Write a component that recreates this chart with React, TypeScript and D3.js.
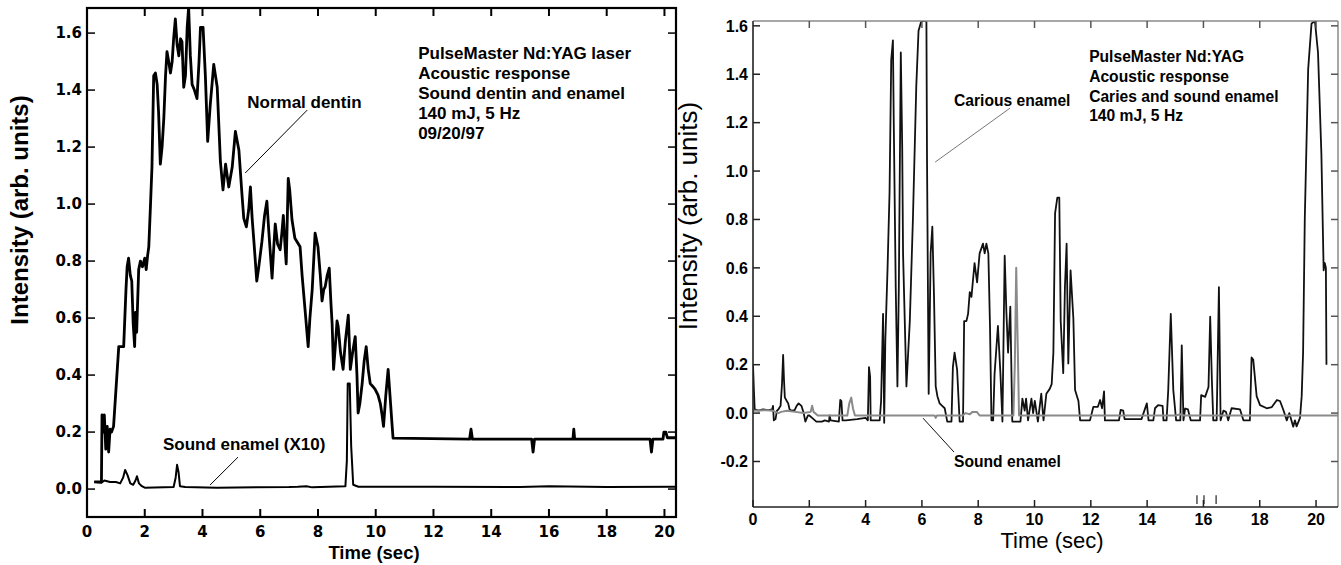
import React from "react";
import * as d3 from "d3";

type Pt = [number, number];

// ---------- Left panel data ----------
const leftTimeTicks = [0, 2, 4, 6, 8, 10, 12, 14, 16, 18, 20];
const leftIntensityTicks = [0, 0.2, 0.4, 0.6, 0.8, 1.0, 1.2, 1.4, 1.6];

const normalDentin: Pt[] = [
  [0.25, 0.025], [0.5, 0.025], [0.52, 0.26], [0.56, 0.2], [0.6, 0.26], [0.65, 0.14], [0.7, 0.22], [0.75, 0.13],
  [0.8, 0.21], [0.85, 0.2], [0.92, 0.22], [1.1, 0.5], [1.27, 0.5], [1.35, 0.7], [1.39, 0.78], [1.44, 0.81],
  [1.5, 0.75], [1.55, 0.73], [1.6, 0.58], [1.65, 0.5], [1.68, 0.62], [1.72, 0.55], [1.79, 0.77], [1.85, 0.8],
  [1.92, 0.78], [2.0, 0.81], [2.05, 0.77], [2.1, 0.82], [2.14, 0.85], [2.2, 1.0], [2.25, 1.13], [2.31, 1.45],
  [2.37, 1.46], [2.43, 1.42], [2.48, 1.32], [2.54, 1.14], [2.6, 1.2], [2.66, 1.3], [2.72, 1.45], [2.77, 1.535],
  [2.83, 1.5], [2.89, 1.46], [2.95, 1.5], [3.0, 1.58], [3.06, 1.65], [3.12, 1.56], [3.18, 1.52], [3.24, 1.58],
  [3.29, 1.57], [3.35, 1.41], [3.41, 1.45], [3.47, 1.62], [3.52, 1.69], [3.58, 1.52], [3.64, 1.42], [3.72, 1.4],
  [3.81, 1.37], [3.88, 1.5], [3.93, 1.62], [4.02, 1.62], [4.1, 1.45], [4.18, 1.22], [4.27, 1.35], [4.39, 1.49],
  [4.45, 1.45], [4.51, 1.41], [4.62, 1.15], [4.71, 1.05], [4.8, 1.14], [4.91, 1.06], [5.03, 1.13], [5.14, 1.255],
  [5.26, 1.19], [5.37, 1.03], [5.43, 0.95], [5.52, 0.92], [5.6, 0.98], [5.66, 1.06], [5.72, 0.95], [5.78, 0.87],
  [5.88, 0.73], [5.95, 0.78], [6.06, 0.87], [6.15, 0.96], [6.23, 1.01], [6.3, 0.9], [6.41, 0.74], [6.47, 0.85],
  [6.52, 0.93], [6.6, 0.86], [6.69, 0.84], [6.75, 0.9], [6.8, 0.96], [6.86, 0.85], [6.9, 0.79], [6.97, 1.09],
  [7.02, 1.05], [7.1, 0.945], [7.2, 0.88], [7.38, 0.85], [7.45, 0.75], [7.56, 0.62], [7.66, 0.5], [7.72, 0.6],
  [7.8, 0.7], [7.9, 0.898], [8.0, 0.85], [8.08, 0.75], [8.14, 0.66], [8.2, 0.7], [8.25, 0.71], [8.32, 0.75],
  [8.39, 0.775], [8.45, 0.65], [8.49, 0.58], [8.54, 0.42], [8.6, 0.5], [8.66, 0.59], [8.7, 0.57], [8.78, 0.48],
  [8.87, 0.42], [8.95, 0.52], [9.05, 0.61], [9.12, 0.42], [9.2, 0.48], [9.29, 0.535], [9.35, 0.4], [9.39, 0.267],
  [9.45, 0.3], [9.53, 0.37], [9.6, 0.45], [9.67, 0.5], [9.74, 0.42], [9.81, 0.37], [9.9, 0.36], [9.98, 0.35],
  [10.08, 0.33], [10.16, 0.3], [10.22, 0.26], [10.27, 0.22], [10.35, 0.33], [10.43, 0.42], [10.5, 0.32],
  [10.57, 0.22], [10.6, 0.179], [13.25, 0.175], [13.3, 0.21], [13.35, 0.175], [15.4, 0.175], [15.45, 0.13],
  [15.5, 0.175], [16.83, 0.175], [16.86, 0.21], [16.89, 0.175], [19.5, 0.175], [19.55, 0.13], [19.6, 0.175],
  [19.95, 0.175], [19.98, 0.2], [20.05, 0.2], [20.1, 0.18], [20.4, 0.18],
];

const soundEnamelX10: Pt[] = [
  [0.25, 0.025], [0.5, 0.022], [0.6, 0.03], [0.8, 0.025], [1.0, 0.025], [1.15, 0.02], [1.25, 0.04], [1.32, 0.067],
  [1.4, 0.05], [1.5, 0.02], [1.6, 0.015], [1.68, 0.03], [1.73, 0.045], [1.8, 0.02], [1.9, 0.01], [2.0, 0.005],
  [3.0, 0.007], [3.07, 0.04], [3.12, 0.085], [3.17, 0.06], [3.22, 0.01], [3.4, 0.007], [4.5, 0.005], [7.0, 0.007],
  [7.3, 0.008], [7.6, 0.01], [7.8, 0.006], [8.95, 0.01], [9.0, 0.1], [9.03, 0.37], [9.1, 0.37], [9.15, 0.15],
  [9.22, 0.015], [9.4, 0.008], [12.0, 0.008], [15.0, 0.007], [16.0, 0.01], [18.0, 0.007], [20.4, 0.008],
];

const leftInfoLines = [
  "PulseMaster Nd:YAG laser",
  "Acoustic response",
  "Sound dentin and enamel",
  "140 mJ, 5 Hz",
  "09/20/97",
];

// ---------- Right panel data ----------
const rightTimeTicks = [0, 2, 4, 6, 8, 10, 12, 14, 16, 18, 20];
const rightIntensityTicks = [-0.2, 0, 0.2, 0.4, 0.6, 0.8, 1.0, 1.2, 1.4, 1.6];

const cariousEnamel: Pt[] = [
  [0.0, 0.2], [0.03, 0.1], [0.06, 0.015], [0.2, 0.01], [0.35, 0.015], [0.55, 0.012], [0.68, 0.015], [0.71, 0.03],
  [0.74, -0.03], [0.8, -0.025], [0.85, 0.01], [0.9, 0.015], [0.98, 0.03], [1.03, 0.12], [1.07, 0.24], [1.1, 0.14],
  [1.13, 0.065], [1.2, 0.05], [1.25, 0.04], [1.3, 0.015], [1.38, 0.01], [1.48, 0.012], [1.55, 0.03], [1.62, 0.04],
  [1.72, 0.03], [1.8, 0.0], [1.86, -0.035], [1.95, -0.01], [2.0, -0.01], [2.1, -0.02], [2.25, -0.035],
  [2.45, -0.035], [2.55, -0.03], [2.7, -0.035], [2.72, -0.01], [2.76, -0.03], [3.05, -0.035], [3.1, 0.055],
  [3.14, 0.05], [3.18, -0.03], [3.3, -0.03], [3.7, -0.025], [4.0, -0.02], [4.08, -0.03], [4.12, 0.19],
  [4.16, 0.15], [4.18, -0.03], [4.5, -0.03], [4.55, 0.05], [4.62, 0.41], [4.66, -0.04], [4.7, 0.3], [4.78, 0.6],
  [4.85, 0.91], [4.91, 1.46], [4.97, 1.54], [5.0, 1.2], [5.07, 0.52], [5.13, 0.11], [5.18, 0.52], [5.25, 1.49],
  [5.3, 1.1], [5.33, 0.66], [5.45, 0.11], [5.57, 0.38], [5.68, 0.8], [5.8, 1.35], [5.88, 1.58], [5.98, 1.62],
  [6.16, 1.62], [6.18, 1.07], [6.24, 0.08], [6.28, 0.4], [6.31, 0.66], [6.37, 0.77], [6.43, 0.48], [6.49, 0.11],
  [6.55, 0.07], [6.63, 0.04], [6.72, 0.03], [6.81, 0.02], [6.9, -0.035], [7.05, -0.035], [7.1, 0.19],
  [7.16, 0.25], [7.25, 0.18], [7.34, -0.035], [7.46, -0.035], [7.5, 0.38], [7.58, 0.38], [7.64, 0.41],
  [7.7, 0.5], [7.76, 0.48], [7.87, 0.62], [7.96, 0.54], [8.05, 0.66], [8.17, 0.7], [8.23, 0.66], [8.29, 0.7],
  [8.36, 0.66], [8.42, 0.35], [8.47, -0.03], [8.53, -0.03], [8.58, 0.16], [8.7, 0.36], [8.79, 0.16],
  [8.86, -0.035], [8.94, 0.65], [9.0, 0.42], [9.06, 0.25], [9.14, 0.44], [9.21, -0.035], [9.5, -0.035],
  [9.57, 0.06], [9.65, 0.01], [9.7, 0.06], [9.77, -0.03], [9.89, 0.06], [9.95, 0.0], [10.01, 0.05],
  [10.12, -0.035], [10.24, 0.08], [10.32, -0.03], [10.42, 0.08], [10.54, 0.1], [10.61, 0.12], [10.67, 0.25],
  [10.73, 0.825], [10.81, 0.89], [10.88, 0.89], [10.93, 0.38], [11.02, 0.165], [11.08, 0.52], [11.14, 0.7],
  [11.2, 0.205], [11.28, 0.59], [11.38, 0.39], [11.44, 0.095], [11.56, 0.05], [11.62, -0.03], [11.97, -0.03],
  [12.09, 0.026], [12.25, 0.026], [12.33, 0.054], [12.4, 0.02], [12.47, 0.09], [12.5, -0.03], [13.0, -0.03],
  [13.06, 0.013], [13.15, 0.01], [13.2, -0.025], [13.8, -0.025], [13.99, 0.04], [14.05, -0.03], [14.22, -0.03],
  [14.28, 0.02], [14.39, 0.033], [14.55, 0.03], [14.58, -0.03], [14.69, -0.03], [14.75, 0.095], [14.84, 0.41],
  [14.93, 0.095], [15.03, -0.03], [15.18, -0.03], [15.23, 0.28], [15.29, -0.03], [15.35, 0.019], [15.45, 0.015],
  [15.55, -0.03], [15.88, -0.03], [15.92, 0.074], [16.06, 0.067], [16.18, 0.108], [16.24, 0.398], [16.3, 0.136],
  [16.35, -0.03], [16.47, -0.03], [16.55, 0.52], [16.61, -0.03], [16.71, 0.01], [16.8, 0.005], [16.88, -0.03],
  [17.0, 0.02], [17.3, 0.015], [17.42, -0.03], [17.65, -0.03], [17.71, 0.23], [17.77, 0.22], [17.89, 0.07],
  [18.01, 0.033], [18.25, 0.02], [18.43, 0.025], [18.61, 0.054], [18.72, 0.05], [18.84, 0.013], [18.96, -0.03],
  [19.05, 0.0], [19.19, -0.056], [19.25, -0.03], [19.31, -0.055], [19.43, -0.02], [19.49, 0.07], [19.54, 0.25],
  [19.6, 0.8], [19.72, 1.42], [19.84, 1.61], [19.96, 1.62], [20.07, 1.49], [20.19, 1.07], [20.27, 0.59],
  [20.31, 0.62], [20.35, 0.6], [20.37, 0.2],
];

const soundEnamel: Pt[] = [
  [0.0, 0.01], [0.5, 0.012], [0.7, 0.01], [0.9, 0.0], [1.0, 0.005], [1.2, 0.01], [1.5, 0.005], [1.8, 0.0],
  [2.05, 0.005], [2.1, 0.03], [2.15, 0.005], [2.3, -0.01], [3.35, -0.01], [3.42, 0.04], [3.49, 0.064],
  [3.55, 0.02], [3.62, -0.01], [6.45, -0.01], [6.49, -0.02], [6.53, -0.01], [7.45, -0.01], [7.55, 0.0],
  [7.7, -0.005], [7.8, 0.005], [7.95, 0.005], [8.05, -0.01], [9.25, -0.01], [9.3, 0.2], [9.35, 0.6], [9.4, 0.3],
  [9.45, -0.01], [15.0, -0.01], [15.2, -0.005], [15.3, -0.01], [20.8, -0.01],
];

const rightInfoLines = [
  "PulseMaster Nd:YAG",
  "Acoustic response",
  "Caries and sound enamel",
  "140 mJ, 5 Hz",
];

const strayMarks = [15.77, 16.02, 16.45];

const fmt = (v: number) => d3.format(".1f")(v).replace("\u2212", "-");

const SANS = "'Liberation Sans', Arial, Helvetica, sans-serif";
const DEJA = "'DejaVu Sans', sans-serif";

function LeftPanel() {
  const x = d3.scaleLinear().domain([0, 20.4]).range([87, 676]);
  const y = d3.scaleLinear().domain([-0.098, 1.688]).range([517, 8]);
  const line = d3.line<Pt>().x((d) => x(d[0])).y((d) => y(d[1]));
  const [x0, x1] = x.range();
  const [y0, y1] = y.range();
  const tk = 8;
  return (
    <g>
      <defs>
        <clipPath id="clipL">
          <rect x={x0} y={y1} width={x1 - x0} height={y0 - y1} />
        </clipPath>
      </defs>
      <g clipPath="url(#clipL)" fill="none" stroke="#000" strokeLinejoin="round">
        <path d={line(soundEnamelX10) || ""} strokeWidth={2} />
        <path d={line(normalDentin) || ""} strokeWidth={2.8} />
      </g>
      {/* frame */}
      <rect x={x0} y={y1} width={x1 - x0} height={y0 - y1} fill="none" stroke="#000" strokeWidth={2.2} />
      {leftTimeTicks.map((t) => (
        <g key={"lx" + t}>
          <line x1={x(t)} x2={x(t)} y1={y0} y2={y0 - tk} stroke="#000" strokeWidth={2} />
          <line x1={x(t)} x2={x(t)} y1={y1} y2={y1 + tk} stroke="#000" strokeWidth={2} />
          <text x={x(t)} y={537} textAnchor="middle" fontFamily={DEJA} fontWeight="bold" fontSize={15}>
            {String(t)}
          </text>
        </g>
      ))}
      {leftIntensityTicks.map((v) => (
        <g key={"ly" + v}>
          <line x1={x0} x2={x0 + tk} y1={y(v)} y2={y(v)} stroke="#000" strokeWidth={1.5} />
          <line x1={x1} x2={x1 - tk} y1={y(v)} y2={y(v)} stroke="#000" strokeWidth={1.5} />
          <text x={82} y={y(v)} dy="0.36em" textAnchor="end" fontFamily={DEJA} fontWeight="bold" fontSize={15}>
            {fmt(v)}
          </text>
        </g>
      ))}
      <text x={374} y={559} textAnchor="middle" fontFamily={SANS} fontWeight="bold" fontSize={18.5}>
        Time (sec)
      </text>
      <text
        transform={`translate(28,${210}) rotate(-90)`}
        textAnchor="middle"
        fontFamily={SANS}
        fontWeight="bold"
        fontSize={24}
      >
        Intensity (arb. units)
      </text>
      {/* annotations */}
      <g fontFamily={SANS} fontWeight="bold" fontSize={17}>
        {leftInfoLines.map((s, i) => (
          <text key={s} x={x(11.47)} y={y(1.509) + i * 20}>
            {s}
          </text>
        ))}
        <text x={x(5.55)} y={y(1.337)}>Normal dentin</text>
        <text x={x(2.63)} y={y(0.137)}>Sound enamel (X10)</text>
      </g>
      <line x1={x(7.63)} y1={y(1.33)} x2={x(5.48)} y2={y(1.109)} stroke="#000" strokeWidth={1} />
      <line x1={x(5.23)} y1={y(0.112)} x2={x(4.26)} y2={y(0.014)} stroke="#000" strokeWidth={1} />
    </g>
  );
}

function RightPanel() {
  const x = d3.scaleLinear().domain([0, 20.78]).range([753, 1338]);
  const y = d3.scaleLinear().domain([-0.388, 1.62]).range([507, 21]);
  const line = d3.line<Pt>().x((d) => x(d[0])).y((d) => y(d[1]));
  const [x0, x1] = x.range();
  const [y0, y1] = y.range();
  const tk = 7;
  return (
    <g>
      <defs>
        <clipPath id="clipR">
          <rect x={x0} y={y1} width={x1 - x0} height={y0 - y1} />
        </clipPath>
      </defs>
      <g clipPath="url(#clipR)" fill="none" strokeLinejoin="round">
        <path d={line(cariousEnamel) || ""} stroke="#111" strokeWidth={1.8} />
        <path d={line(soundEnamel) || ""} stroke="#8a8a8a" strokeWidth={2} />
      </g>
      {/* frame */}
      <line x1={x0} x2={x1} y1={y1} y2={y1} stroke="#8a8a8a" strokeWidth={1.5} />
      <line x1={x1} x2={x1} y1={y1} y2={y0} stroke="#8a8a8a" strokeWidth={1.5} />
      <line x1={x0} x2={x0} y1={y1} y2={y0} stroke="#222" strokeWidth={1.6} />
      <line x1={x0} x2={x1} y1={y0} y2={y0} stroke="#222" strokeWidth={1.6} />
      {rightTimeTicks.map((t) => (
        <g key={"rx" + t}>
          <line x1={x(t)} x2={x(t)} y1={y0} y2={y0 - tk} stroke="#222" strokeWidth={1.5} />
          <line x1={x(t)} x2={x(t)} y1={y1} y2={y1 + tk} stroke="#555" strokeWidth={1.5} />
          <text x={x(t)} y={525} textAnchor="middle" fontFamily={SANS} fontWeight="bold" fontSize={16}>
            {String(t)}
          </text>
        </g>
      ))}
      {rightIntensityTicks.map((v) => (
        <g key={"ry" + v}>
          <line x1={x0} x2={x0 + tk} y1={y(v)} y2={y(v)} stroke="#222" strokeWidth={1.5} />
          <line x1={x1} x2={x1 - tk} y1={y(v)} y2={y(v)} stroke="#555" strokeWidth={1.5} />
          <text x={748} y={y(v)} dy="0.36em" textAnchor="end" fontFamily={SANS} fontWeight="bold" fontSize={16}>
            {fmt(v)}
          </text>
        </g>
      ))}
      {strayMarks.map((t) => (
        <line key={"s" + t} x1={x(t)} x2={x(t)} y1={y(-0.339)} y2={y(-0.376)} stroke="#222" strokeWidth={1.2} />
      ))}
      <text x={1052} y={548} textAnchor="middle" fontFamily={SANS} fontSize={22}>
        Time (sec)
      </text>
      <text transform={`translate(697,216) rotate(-90)`} textAnchor="middle" fontFamily={SANS} fontSize={26}>
        Intensity (arb. units)
      </text>
      <g fontFamily={SANS} fontWeight="bold" fontSize={17}>
        {rightInfoLines.map((s, i) => (
          <text key={s} transform={`translate(${x(11.94)},${y(1.45) + i * 19.7}) scale(0.92,1)`}>
            {s}
          </text>
        ))}
        <text transform={`translate(${x(7.14)},${y(1.269)}) scale(0.92,1)`}>Carious enamel</text>
        <text transform={`translate(${x(7.14)},${y(-0.223)}) scale(0.92,1)`}>Sound enamel</text>
      </g>
      <line x1={x(9.13)} y1={y(1.26)} x2={x(6.47)} y2={y(1.037)} stroke="#777" strokeWidth={1} />
      <line x1={x(6.04)} y1={y(-0.021)} x2={x(7.14)} y2={y(-0.161)} stroke="#111" strokeWidth={1} />
    </g>
  );
}

export default function App() {
  return (
    <svg
      width={1341}
      height={565}
      style={{ position: "absolute", left: 0, top: 0, background: "#fff" }}
      xmlns="http://www.w3.org/2000/svg"
    >
      <rect width={1341} height={565} fill="#fff" />
      <LeftPanel />
      <RightPanel />
    </svg>
  );
}
